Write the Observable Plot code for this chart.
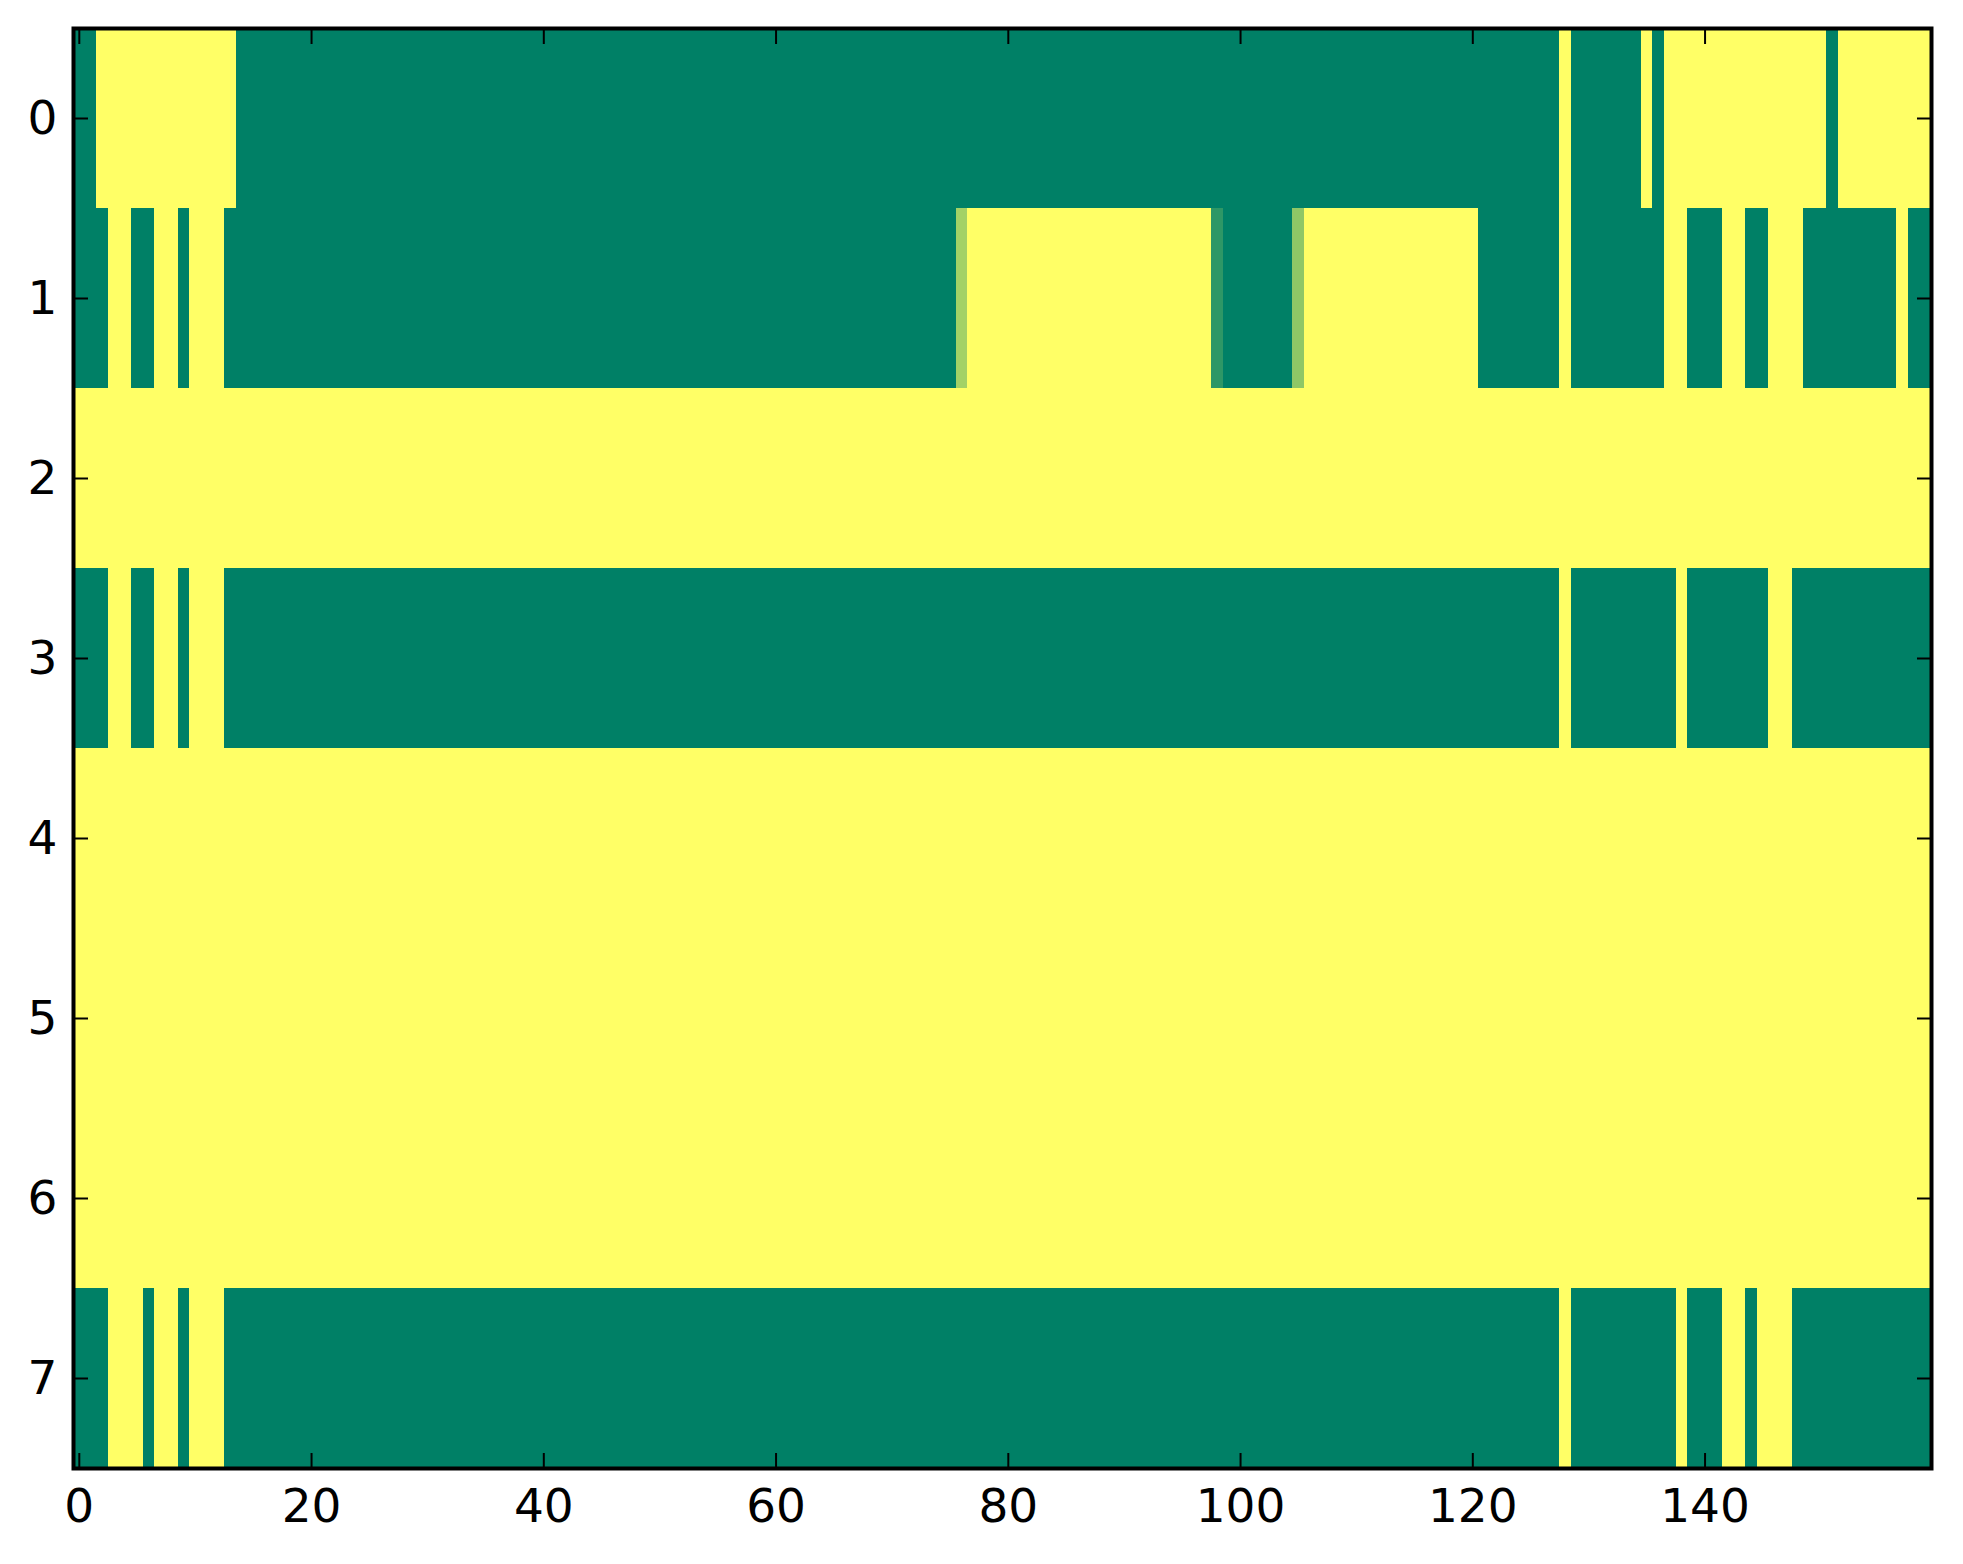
<!DOCTYPE html>
<html>
<head>
<meta charset="utf-8">
<script src="https://cdn.jsdelivr.net/npm/d3@7"></script>
<script src="https://cdn.jsdelivr.net/npm/@observablehq/plot@0.6"></script>
<style>
  body { margin: 0; background: #fff; overflow: hidden; }
</style>
</head>
<body>
<div id="chart"></div>
<script>
// each row is a list of runs: [value, number of columns]
const row0Runs = [[0, 2], [1, 12], [0, 114], [1, 1], [0, 6], [1, 1], [0, 1], [1, 14], [0, 1], [1, 8]];
const row1Runs = [[0, 3], [1, 2], [0, 2], [1, 2], [0, 1], [1, 3], [0, 63], [0.64, 1], [1, 21], [0.18, 1],
                  [0, 6], [0.56, 1], [1, 15], [0, 7], [1, 1], [0, 8], [1, 2], [0, 3], [1, 2], [0, 2],
                  [1, 3], [0, 8], [1, 1], [0, 2]];
const row2Runs = [[1, 160]];
const row3Runs = [[0, 3], [1, 2], [0, 2], [1, 2], [0, 1], [1, 3], [0, 115], [1, 1], [0, 9], [1, 1],
                  [0, 7], [1, 2], [0, 12]];
const row4Runs = [[1, 160]];
const row5Runs = [[1, 160]];
const row6Runs = [[1, 160]];
const row7Runs = [[0, 3], [1, 3], [0, 1], [1, 2], [0, 1], [1, 3], [0, 115], [1, 1], [0, 9], [1, 1],
                  [0, 3], [1, 2], [0, 1], [1, 3], [0, 12]];

const xTicks = [0, 20, 40, 60, 80, 100, 120, 140];
const yTicks = [0, 1, 2, 3, 4, 5, 6, 7];

function plotChart(rows) {
  const width = 1963;
  const height = 1564;
  const marginTop = 28;
  const marginRight = 32;
  const marginBottom = 96;
  const marginLeft = 73;

  // flatten the runs into rectangles, one per run
  const runs = rows.flatMap((r, row) => {
    let start = 0;
    return r.map(([value, length]) => {
      const d = {row, start, length, value};
      start += length;
      return d;
    });
  });

  // inward ticks only, no labels
  const ticks = {tickSize: -15, fill: "none", strokeWidth: 2};

  return Plot.plot({
    width,
    height,
    marginTop,
    marginRight,
    marginBottom,
    marginLeft,
    style: {fontFamily: "DejaVu Sans", fontSize: "47px", color: "black", background: "white"},
    x: {domain: [-0.5, 159.5], label: null},
    y: {domain: [-0.5, 7.5], reverse: true, label: null},
    color: {type: "linear", domain: [0, 1], range: ["#008066", "#ffff66"], interpolate: "rgb"},
    marks: [
      Plot.rect(runs, {
        x1: d => d.start - 0.5,
        x2: d => d.start + d.length - 0.5,
        y1: d => d.row - 0.5,
        y2: d => d.row + 0.5,
        fill: "value",
        shapeRendering: "crispEdges"
      }),
      Plot.axisX(xTicks, {anchor: "bottom", tickSize: 0, tickPadding: 20, tickFormat: d => String(d)}),
      Plot.axisY(yTicks, {anchor: "left", tickSize: 0, tickPadding: 16, tickFormat: d => String(d)}),
      Plot.axisX(xTicks, {anchor: "bottom", ...ticks}),
      Plot.axisX(xTicks, {anchor: "top", ...ticks}),
      Plot.axisY(yTicks, {anchor: "left", ...ticks}),
      Plot.axisY(yTicks, {anchor: "right", ...ticks}),
      Plot.frame({stroke: "black", strokeWidth: 4})
    ]
  });
}

const rows = [row0Runs, row1Runs, row2Runs, row3Runs, row4Runs, row5Runs, row6Runs, row7Runs];
document.getElementById("chart").append(plotChart(rows));
</script>
</body>
</html>
